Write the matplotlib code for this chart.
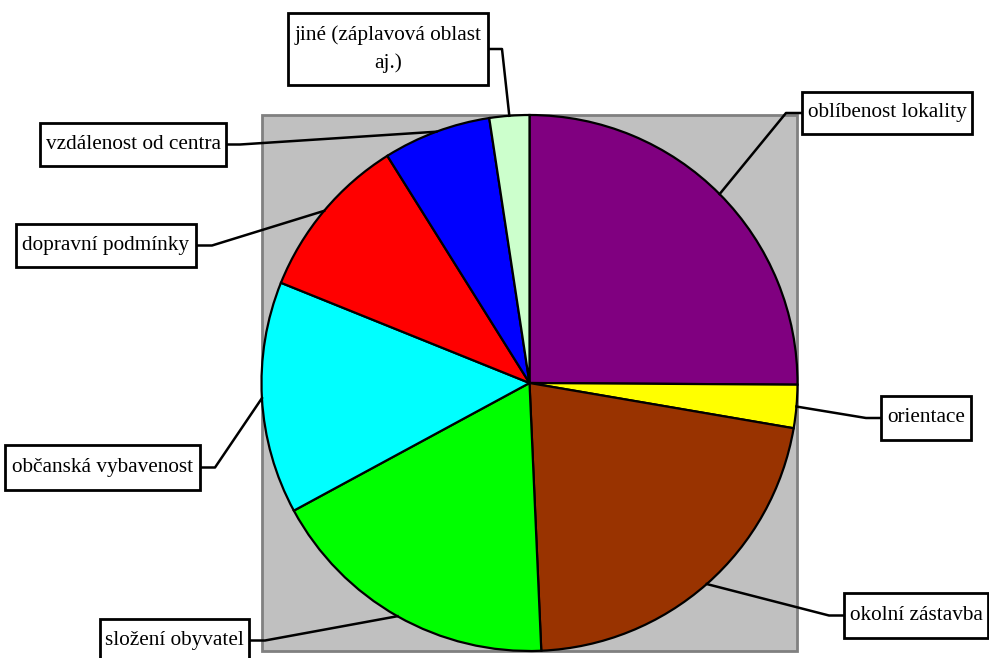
import numpy as np
import matplotlib.pyplot as plt
from matplotlib.patches import Rectangle

plt.rcParams['font.family'] = ['Liberation Serif', 'DejaVu Serif']

# podíly faktorů (v %)
labels = ['oblíbenost lokality', 'orientace', 'okolní zástavba', 'složení obyvatel',
          'občanská vybavenost', 'dopravní podmínky', 'vzdálenost od centra',
          'jiné (záplavová oblast\naj.)']
values = [25.1, 2.6, 21.6, 17.8, 14.0, 10.0, 6.5, 2.4]
colors = ['#800080', '#ffff00', '#993300', '#00ff00', '#00ffff', '#ff0000', '#0000ff', '#ccffcc']

W, H = 989, 658
fig = plt.figure(figsize=(W/100, H/100), dpi=100)
ax = fig.add_axes([0, 0, 1, 1])

cx, cy, r = 529.5, H-383, 268

# šedé pozadí plochy grafu
ax.add_patch(Rectangle((262, H-651), 535, 536, facecolor='#c0c0c0', edgecolor='#808080', lw=2, zorder=0))

wedges, _ = ax.pie(values, colors=colors, startangle=90, counterclock=False,
                   center=(cx, cy), radius=r,
                   wedgeprops=dict(edgecolor='black', linewidth=1.6))

# rámečky popisků: (x0, y0, x1, y1) v pixelech, bod lomu odkazové čáry
boxes = [(802, 92, 972, 134, 'left', 786),
         (881, 396, 971, 440, 'left', 866),
         (844, 593, 988, 638, 'left', 829),
         (100, 619, 249, 662, 'right', 265),
         (5, 445, 200, 490, 'right', 215),
         (16, 224, 196, 267, 'right', 212),
         (40, 123, 226, 166, 'right', 240),
         (288, 13, 488, 85, 'right', 502)]

for w, lab, (x0, y0, x1, y1, side, xe) in zip(wedges, labels, boxes):
    ax.add_patch(Rectangle((x0, H-y1), x1-x0, y1-y0, facecolor='white', edgecolor='black', lw=2, zorder=5))
    ax.text((x0+x1)/2, H-(y0+y1)/2, lab, ha='center', va='center', fontsize=15.3,
            linespacing=1.55, zorder=6)
    ang = np.deg2rad((w.theta1 + w.theta2)/2)
    px, py = cx + r*np.cos(ang), cy + r*np.sin(ang)
    ym = H-(y0+y1)/2
    if lab.startswith('jiné'):
        ym = H-49
    xb = x0 if side == 'left' else x1
    ax.plot([xb, xe, px], [ym, ym, py], color='black', lw=1.8, zorder=4)

ax.set_xlim(0, W)
ax.set_ylim(0, H)
ax.set_aspect('equal')
ax.axis('off')
plt.savefig('out.png', dpi=100)
